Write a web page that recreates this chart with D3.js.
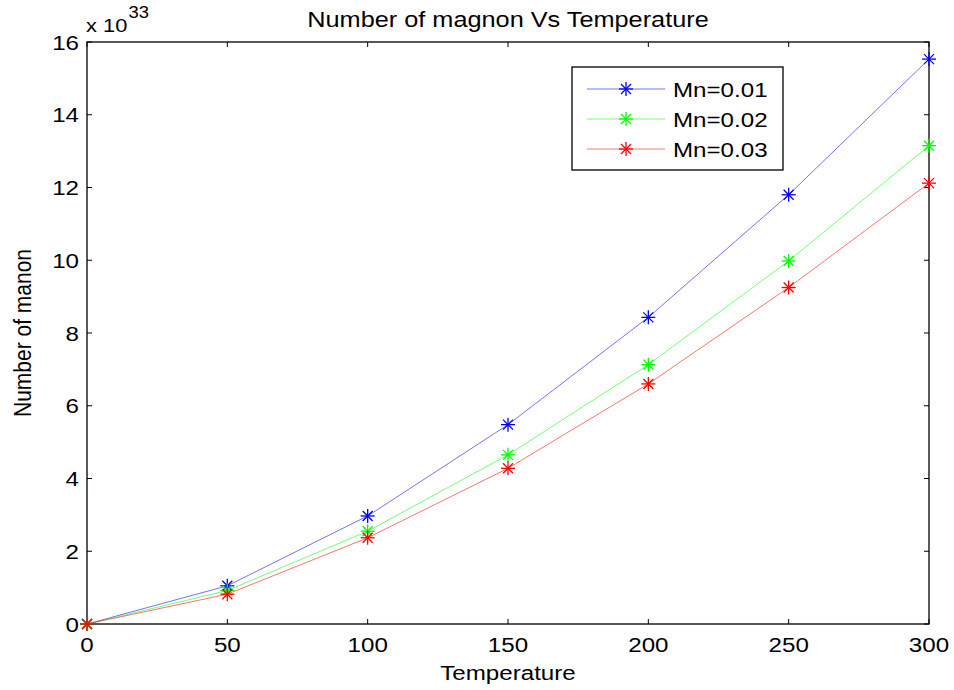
<!DOCTYPE html>
<html><head><meta charset="utf-8">
<script src="https://cdn.jsdelivr.net/npm/d3@7"></script>
<style>body{margin:0;background:#fff}svg{display:block}text{font-family:"Liberation Sans",Arial,sans-serif}</style>
</head><body><svg id="c" width="954" height="690"></svg>
<script>
const temperature = [0, 50, 100, 150, 200, 250, 300];
const mn001 = [0, 1.05, 2.97, 5.48, 8.43, 11.8, 15.53];
const mn002 = [0, 0.92, 2.55, 4.65, 7.13, 9.98, 13.15];
const mn003 = [0, 0.82, 2.37, 4.28, 6.6, 9.25, 12.12];
const seriesNames = ["Mn=0.01", "Mn=0.02", "Mn=0.03"];
const seriesColors = ["#0000ff", "#00ff00", "#ff0000"];
const xTicks = [0, 50, 100, 150, 200, 250, 300];
const yTicks = [0, 2, 4, 6, 8, 10, 12, 14, 16];

const svg = d3.select("#c");
const L = 87, R = 929, T = 42, B = 624;
const SX = 1.15; // horizontal stretch of text seen in the reference
const x = d3.scaleLinear().domain([0, 300]).range([L, R]);
const y = d3.scaleLinear().domain([0, 16]).range([B, T]);

function txt(px, py, s, size, anchor, rot) {
  return svg.append("text")
    .attr("transform", `translate(${px},${py}) scale(${SX},1)` + (rot ? ` rotate(${rot})` : ""))
    .attr("font-size", size).attr("text-anchor", anchor || "start").text(s);
}

// ticks inside on all four sides
const tl = 5;
const g = svg.append("g").attr("stroke", "#000").attr("stroke-width", 1);
xTicks.forEach(t => {
  g.append("line").attr("x1", x(t)).attr("x2", x(t)).attr("y1", B).attr("y2", B - tl);
  g.append("line").attr("x1", x(t)).attr("x2", x(t)).attr("y1", T).attr("y2", T + tl);
});
yTicks.forEach(t => {
  g.append("line").attr("x1", L).attr("x2", L + tl).attr("y1", y(t)).attr("y2", y(t));
  g.append("line").attr("x1", R).attr("x2", R - tl).attr("y1", y(t)).attr("y2", y(t));
});
svg.append("rect").attr("x", L).attr("y", T).attr("width", R - L).attr("height", B - T)
  .attr("fill", "none").attr("stroke", "#000").attr("stroke-width", 1.3);

// tick labels
xTicks.forEach(t => txt(x(t), 652, t, 21, "middle"));
yTicks.forEach(t => txt(79, y(t) + 7.5, t, 21, "end"));

// exponent
const ex = txt(86, 32, "", 19, "start");
ex.append("tspan").text("x 10");
ex.append("tspan").attr("dx", 1).attr("dy", -14).attr("font-size", 16).text("33");

// titles
txt((L + R) / 2, 27, "Number of magnon Vs Temperature", 22, "middle");
txt((L + R) / 2, 680, "Temperature", 21, "middle");
txt(31, (T + B) / 2, "Number of manon", 21, "middle", -90);

function star(sel, cx, cy, color) {
  const s = 7, d = 5;
  const gg = sel.append("g").attr("stroke", color).attr("stroke-width", 1.3);
  gg.append("line").attr("x1", cx - s).attr("x2", cx + s).attr("y1", cy).attr("y2", cy);
  gg.append("line").attr("x1", cx).attr("x2", cx).attr("y1", cy - s).attr("y2", cy + s);
  gg.append("line").attr("x1", cx - d).attr("x2", cx + d).attr("y1", cy - d).attr("y2", cy + d);
  gg.append("line").attr("x1", cx - d).attr("x2", cx + d).attr("y1", cy + d).attr("y2", cy - d);
}

const all = [mn001, mn002, mn003];
const line = d3.line().x((d, i) => x(temperature[i])).y(d => y(d));
all.forEach((vals, k) => {
  svg.append("path").datum(vals).attr("d", line).attr("fill", "none")
    .attr("stroke", seriesColors[k]).attr("stroke-width", 1).attr("stroke-opacity", 0.55);
});
all.forEach((vals, k) => {
  vals.forEach((v, i) => star(svg, x(temperature[i]), y(v), seriesColors[k]));
});

// legend
svg.append("rect").attr("x", 572).attr("y", 67).attr("width", 211).attr("height", 103)
  .attr("fill", "#fff").attr("stroke", "#000").attr("stroke-width", 1.3);
seriesNames.forEach((n, k) => {
  const ly = 89 + k * 30;
  svg.append("line").attr("x1", 587).attr("x2", 665).attr("y1", ly).attr("y2", ly)
    .attr("stroke", seriesColors[k]).attr("stroke-width", 1).attr("stroke-opacity", 0.55);
  star(svg, 626, ly, seriesColors[k]);
  txt(673, ly + 8, n, 21, "start");
});
</script></body></html>
